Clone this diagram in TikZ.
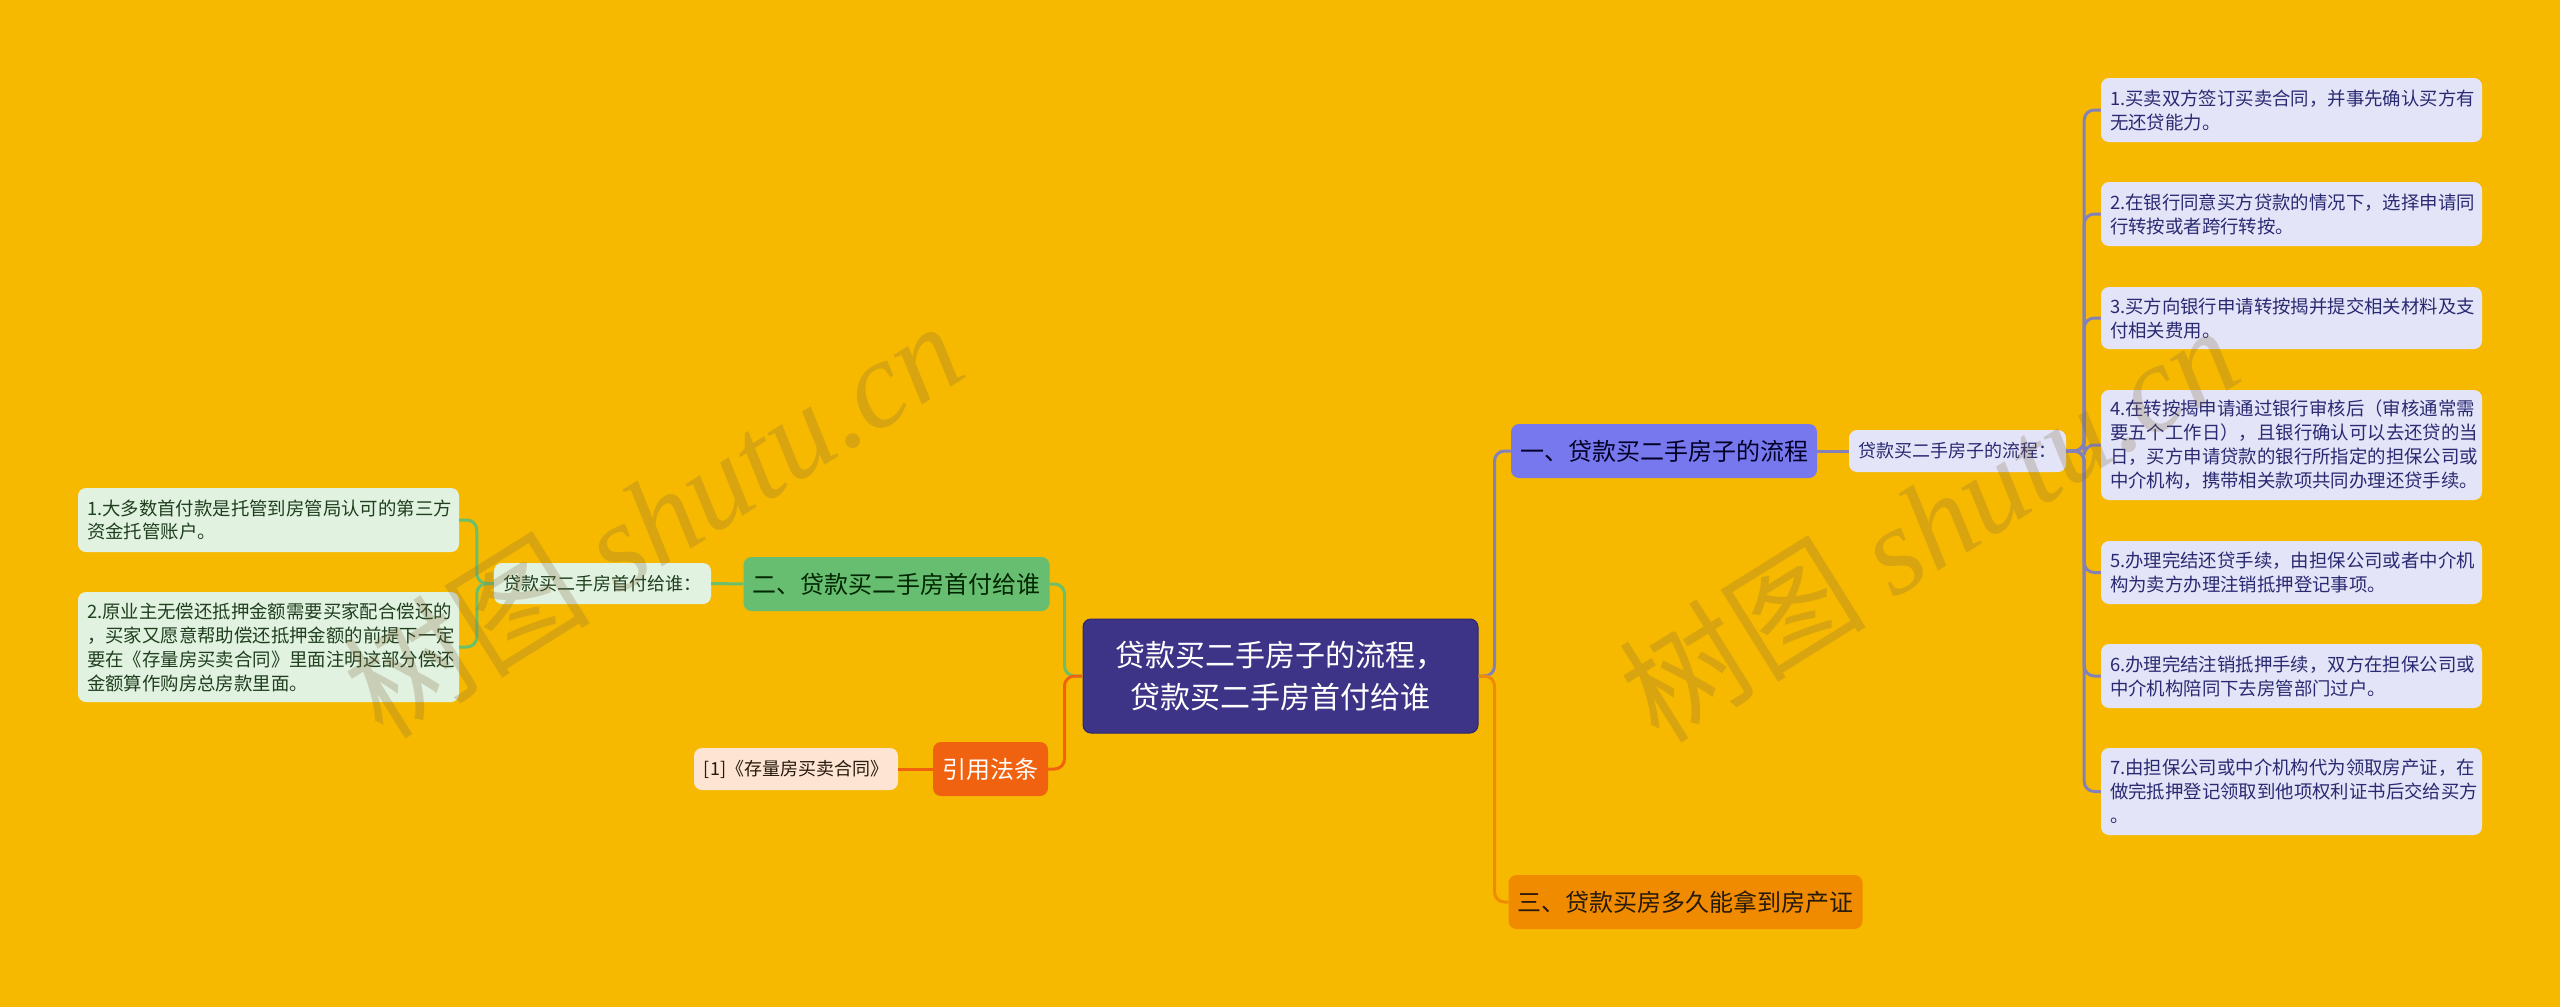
\documentclass[tikz,border=0pt]{standalone}
\usepackage{fontspec}
\setmainfont{Noto Sans CJK SC}
\newfontfamily\wmserif{Liberation Serif}
\definecolor{bg}{HTML}{F6B900}
\definecolor{rootfill}{HTML}{3E3487}
\definecolor{rootdraw}{HTML}{2C2570}
\definecolor{bluefill}{HTML}{7878EE}
\definecolor{lav}{HTML}{E4E4F8}
\definecolor{navy}{HTML}{2A2A72}
\definecolor{purpline}{HTML}{8481BA}
\definecolor{greenfill}{HTML}{68BE70}
\definecolor{lgreen}{HTML}{E2F2E0}
\definecolor{dgreen}{HTML}{1F3F1F}
\definecolor{greenline}{HTML}{6BBF6B}
\definecolor{orfill}{HTML}{F08B00}
\definecolor{redfill}{HTML}{F0620F}
\definecolor{peach}{HTML}{FDE4D3}
\definecolor{wm}{HTML}{7F6A40}
\tikzset{
  box/.style={rounded corners=8pt, inner xsep=9pt, inner ysep=0pt, anchor=center},
  onebox/.style={box, align=center},
  rleaf/.style={box, fill=lav, text=navy, text width=363pt, minimum width=381pt, align=left, font=\fontsize{18.4}{24}\selectfont},
  lleaf/.style={box, fill=lgreen, text=dgreen, text width=363pt, minimum width=381pt, align=left, font=\fontsize{18.4}{24}\selectfont},
  conn/.style={line width=3pt, rounded corners=10pt},
  lp/.style={conn, draw=purpline},
  lo/.style={conn, draw=orfill},
  lg/.style={conn, draw=greenline},
  lr/.style={conn, draw=redfill},
  wmark/.style={text=wm, opacity=0.25, rotate=32, font=\fontsize{124}{130}\selectfont, inner sep=0pt}
}
\begin{document}
\begin{tikzpicture}[x=1pt,y=-1pt]
\useasboundingbox (0,0) rectangle (2560,1007);
\fill[bg] (0,0) rectangle (2560,1007);

% root
\node[onebox, fill=rootfill, draw=rootdraw, line width=1pt, text=white, minimum width=395pt, minimum height=114pt, font=\fontsize{30}{42}\selectfont] (root) at (1280.5,676) {贷款买二手房子的流程，\\贷款买二手房首付给谁};

% right branches
\node[onebox, fill=bluefill, text=black!85!blue, minimum width=304pt, minimum height=54pt, font=\fontsize{24}{28}\selectfont] (b1) at (1664,451) {一、贷款买二手房子的流程};
\node[onebox, fill=orfill, text=black!80!brown, minimum width=349pt, minimum height=54pt, font=\fontsize{24}{28}\selectfont] (b3) at (1685.5,902) {三、贷款买房多久能拿到房产证};
\node[onebox, fill=lav, text=navy, minimum width=217pt, minimum height=42pt, font=\fontsize{18}{22}\selectfont] (s1) at (1957.5,451) {贷款买二手房子的流程：};

\node[rleaf, minimum height=64pt] (r1) at (2291.5,110) {1.买卖双方签订买卖合同，并事先确认买方有\\无还贷能力。};
\node[rleaf, minimum height=64pt] (r2) at (2291.5,214) {2.在银行同意买方贷款的情况下，选择申请同\\行转按或者跨行转按。};
\node[rleaf, minimum height=62pt] (r3) at (2291.5,318) {3.买方向银行申请转按揭并提交相关材料及支\\付相关费用。};
\node[rleaf, minimum height=110pt] (r4) at (2291.5,445) {4.在转按揭申请通过银行审核后（审核通常需\\要五个工作日），且银行确认可以去还贷的当\\日，买方申请贷款的银行所指定的担保公司或\\中介机构，携带相关款项共同办理还贷手续。};
\node[rleaf, minimum height=63pt] (r5) at (2291.5,572.5) {5.办理完结还贷手续，由担保公司或者中介机\\构为卖方办理注销抵押登记事项。};
\node[rleaf, minimum height=64pt] (r6) at (2291.5,676) {6.办理完结注销抵押手续，双方在担保公司或\\中介机构陪同下去房管部门过户。};
\node[rleaf, minimum height=87pt] (r7) at (2291.5,791.5) {7.由担保公司或中介机构代为领取房产证，在\\做完抵押登记领取到他项权利证书后交给买方\\。};

% left branches
\node[onebox, fill=greenfill, text=black!85!green, minimum width=303pt, minimum height=54pt, font=\fontsize{24}{28}\selectfont] (b2) at (896.5,584) {二、贷款买二手房首付给谁};
\node[onebox, fill=lgreen, text=dgreen, minimum width=217pt, minimum height=41pt, font=\fontsize{18}{22}\selectfont] (s2) at (602.5,583.5) {贷款买二手房首付给谁：};
\node[lleaf, minimum height=64pt] (l1) at (268.5,520) {1.大多数首付款是托管到房管局认可的第三方\\资金托管账户。};
\node[lleaf, minimum height=110pt] (l2) at (268.5,647) {2.原业主无偿还抵押金额需要买家配合偿还的\\，买家又愿意帮助偿还抵押金额的前提下一定\\要在《存量房买卖合同》里面注明这部分偿还\\金额算作购房总房款里面。};

\node[onebox, fill=redfill, text=white, minimum width=115pt, minimum height=54pt, font=\fontsize{24}{28}\selectfont] (cite) at (990.5,769) {引用法条};
\node[onebox, fill=peach, text=black!80!brown, minimum width=204pt, minimum height=42pt, font=\fontsize{18}{22}\selectfont] (cl) at (796,769) {[1]《存量房买卖合同》};

% connectors (right)
\draw[lp] (root.east) -- ++(16,0) |- (b1.west);
\draw[lo] (root.east) -- ++(16,0) |- (b3.west);
\draw[lp] (b1.east) -- (s1.west);
\foreach \n in {r1,r2,r3,r4,r5,r6,r7}{
  \draw[lp] (s1.east) -- ++(18,0) |- (\n.west);
}
% connectors (left)
\draw[lg] (root.west) -- ++(-18,0) |- (b2.east);
\draw[lr] (root.west) -- ++(-18,0) |- (cite.east);
\draw[lg] (b2.west) -- (s2.east);
\draw[lg] (s2.west) -- ++(-17,0) |- (l1.east);
\draw[lg] (s2.west) -- ++(-17,0) |- (l2.east);
\draw[lr] (cite.west) -- (cl.east);

% watermarks
\node[wmark] (wm1) at (652,518) {树图 {\wmserif\itshape shutu.cn}};
\node[wmark] (wm2) at (1928,522) {树图 {\wmserif\itshape shutu.cn}};
\end{tikzpicture}
\end{document}
